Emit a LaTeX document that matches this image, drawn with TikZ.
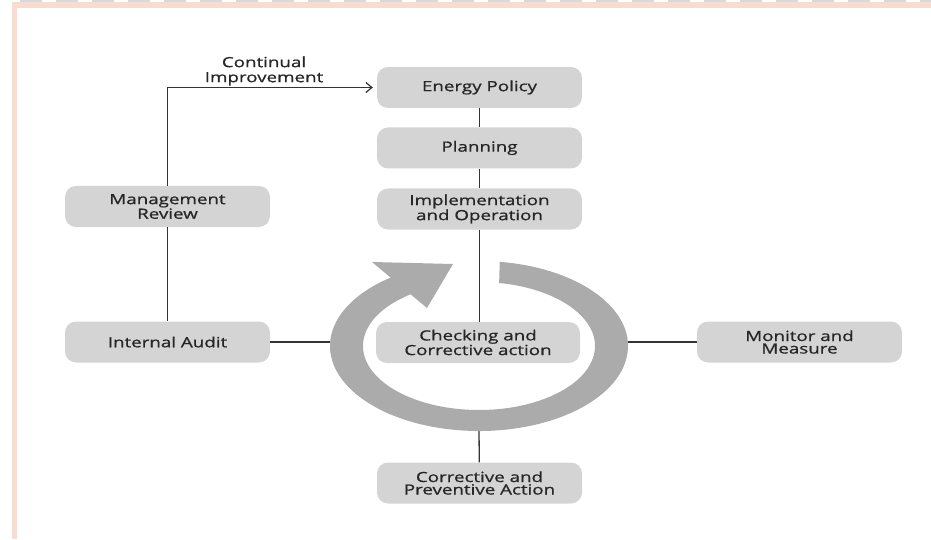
\documentclass[tikz,border=0pt]{standalone}
\usepackage{fontspec}
\setmainfont{Open Sans}[FakeStretch=1.34, FakeBold=0.9]
\usetikzlibrary{arrows.meta,calc}
\definecolor{boxgray}{HTML}{D4D4D4}
\definecolor{ringgray}{HTML}{ABABAB}
\definecolor{txt}{HTML}{262626}
\definecolor{linec}{HTML}{333333}
\definecolor{pinkc}{HTML}{F8DCD0}
\tikzset{
  stagebox/.style={rounded corners=11pt, fill=boxgray, minimum width=205pt, minimum height=41pt,
    align=center, inner sep=0pt, text=txt, font=\fontsize{14}{12.5}\selectfont},
  conn/.style={draw=linec, line width=1.3pt},
  lbl/.style={align=center, inner sep=0pt, text=txt, font=\fontsize{14}{15}\selectfont}
}
\begin{document}
\begin{tikzpicture}[x=1pt,y=1pt]
\useasboundingbox (0,0) rectangle (931,539);
% frame decoration
\fill[pinkc] (12,531) rectangle (931,536.7);
\fill[pinkc] (12,0) rectangle (17,536.7);
\draw[gray!30, line width=2pt, dash pattern=on 22pt off 14pt] (20,538.2) -- (931,538.2);
% nodes
\node[stagebox] (ep) at (479.5,451.5) {Energy Policy};
\node[stagebox] (pl) at (479.5,391) {Planning};
\node[stagebox] (io) at (479.5,330) {Implementation\\and Operation};
\node[stagebox] (mr) at (167.5,332.5) {Management\\Review};
\node[stagebox] (ia) at (167.5,197) {Internal Audit};
\node[stagebox] (mm) at (799.5,197) {Monitor and\\Measure};
\node[stagebox] (cp) at (479.5,56) {Corrective and\\Preventive Action};
\node[lbl] (ci) at (264,468) {Continual\\Improvement};
\coordinate (rl) at (330,197);
\coordinate (rr) at (628,197);
\coordinate (rb) at (479,108);
% connectors
\draw[conn] (ep) -- (pl);
\draw[conn] (pl) -- (io);
\draw[conn] (mr) -- (ia);
\draw[conn, -{Straight Barb[length=6pt,width=10pt,line width=1.2pt]}, shorten >=4pt] (mr.north) |- (ep.west);
\draw[conn] (ia) -- (rl);
\draw[conn] (rr) -- (mm);
\draw[conn] (rb) -- (cp);
\draw[conn] (io.south) -- (479.5,217);
% ring
\fill[ringgray] ($(479,193)+(82:149 and 85)$) arc[start angle=82, end angle=-235, x radius=149, y radius=85]
  -- ($(479,193)+(-235:116 and 64)$) arc[start angle=-235, end angle=80, x radius=116, y radius=64] -- cycle;
\fill[ringgray] (372,277) -- (453,275) -- (427,231) -- cycle;
\node[stagebox, minimum width=204pt] (ck) at (478,196.5) {Checking and\\Corrective action};
\end{tikzpicture}
\end{document}
